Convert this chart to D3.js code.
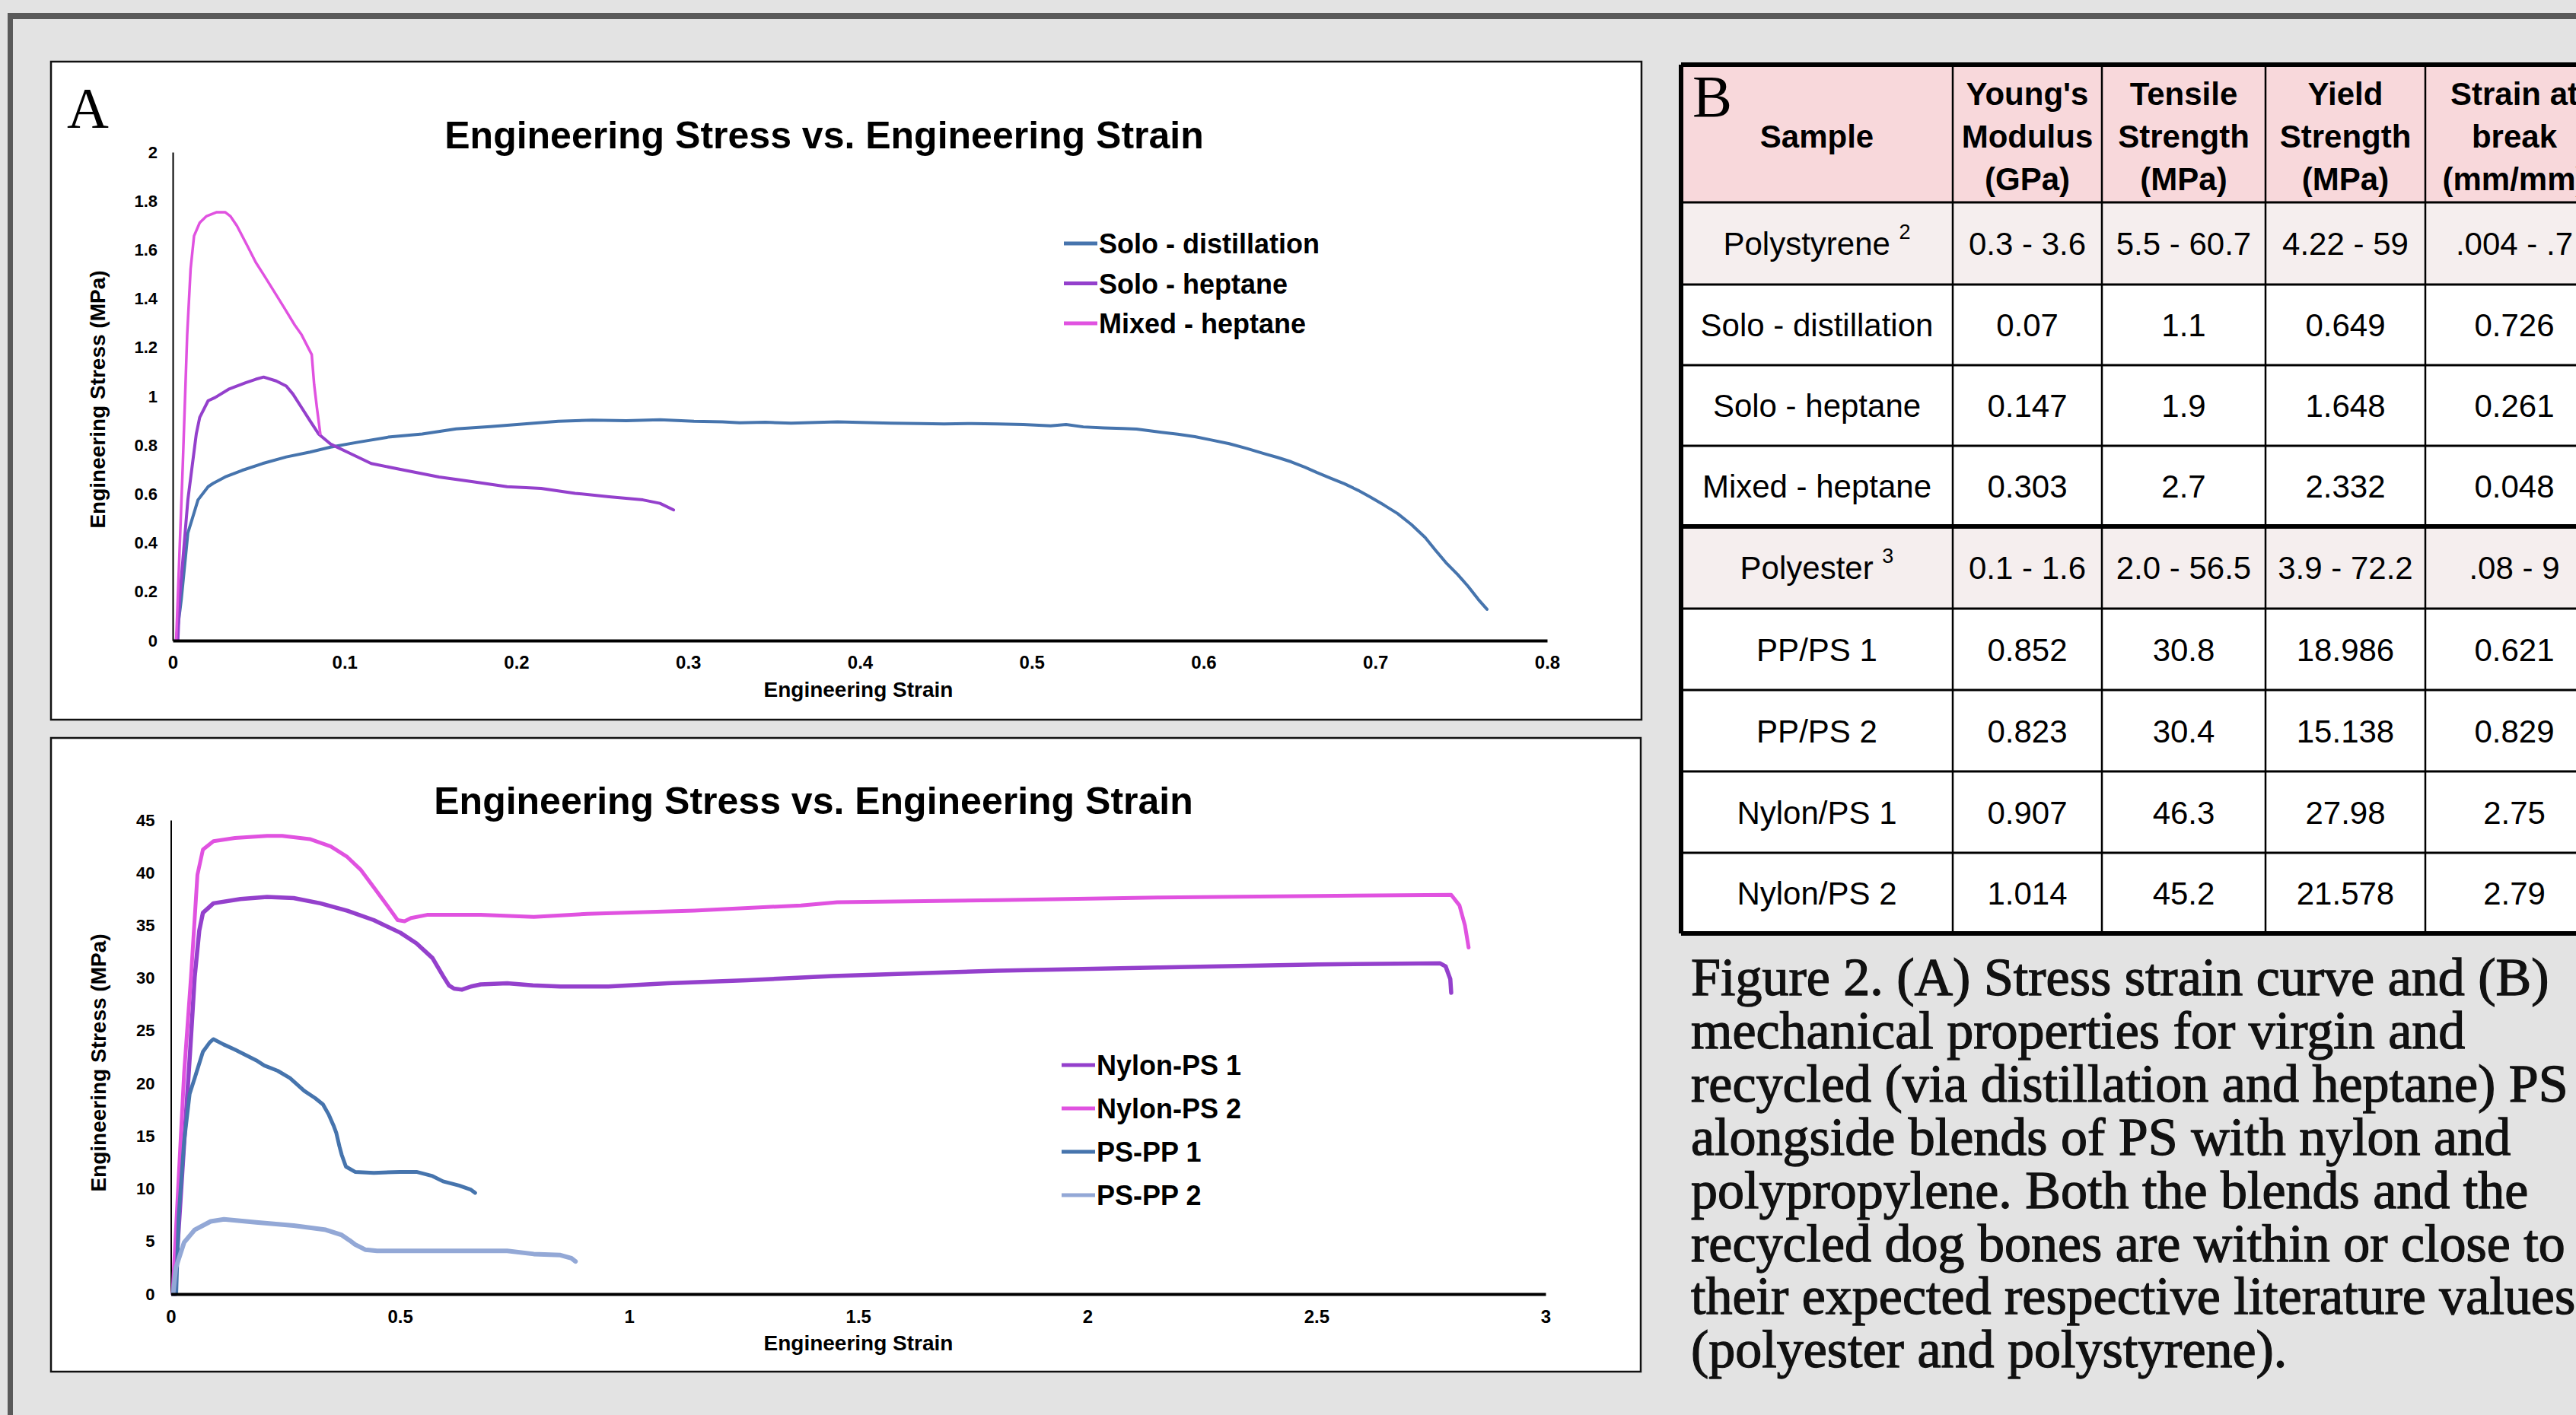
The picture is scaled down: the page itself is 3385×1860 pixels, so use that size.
<!DOCTYPE html>
<html><head><meta charset="utf-8">
<script src="https://cdn.jsdelivr.net/npm/d3@7"></script>
<style>html,body{margin:0;padding:0;background:#e3e3e3;overflow:hidden}</style>
</head><body>
<svg id="fig" width="3385" height="1860"></svg>
<script>
// ---------------- DATA ----------------
// Chart A: [engineering strain, engineering stress (MPa)]
const soloDistillation = [[0.002,0],[0.005,0.17],[0.0088,0.44],[0.0147,0.576],[0.0206,0.63],[0.0236,0.644],[0.0305,0.67],[0.0404,0.697],[0.0523,0.725],[0.0661,0.752],[0.0799,0.772],[0.0918,0.792],[0.1076,0.812],[0.1254,0.833],[0.1452,0.846],[0.165,0.867],[0.1848,0.876],[0.2046,0.887],[0.2244,0.898],[0.2442,0.903],[0.264,0.9],[0.2836,0.904],[0.3034,0.898],[0.32,0.896],[0.33,0.892],[0.345,0.894],[0.36,0.89],[0.375,0.893],[0.387,0.896],[0.4,0.893],[0.418,0.89],[0.435,0.889],[0.449,0.887],[0.465,0.889],[0.48,0.887],[0.495,0.885],[0.511,0.879],[0.52,0.885],[0.53,0.875],[0.542,0.871],[0.553,0.868],[0.561,0.866],[0.573,0.855],[0.585,0.845],[0.595,0.835],[0.604,0.822],[0.615,0.806],[0.625,0.787],[0.635,0.766],[0.643,0.75],[0.651,0.732],[0.659,0.71],[0.666,0.688],[0.674,0.665],[0.682,0.642],[0.69,0.615],[0.697,0.588],[0.705,0.555],[0.713,0.52],[0.721,0.475],[0.729,0.422],[0.735,0.37],[0.741,0.32],[0.748,0.27],[0.754,0.222],[0.76,0.168],[0.765,0.128]];
const soloHeptane = [[0.003,0],[0.004,0.171],[0.0088,0.576],[0.0137,0.846],[0.0157,0.914],[0.0206,0.982],[0.0246,0.995],[0.0325,1.029],[0.0424,1.056],[0.0483,1.07],[0.0529,1.079],[0.0602,1.063],[0.0661,1.042],[0.07,1.009],[0.075,0.954],[0.0799,0.9],[0.0849,0.846],[0.0918,0.805],[0.1037,0.765],[0.1155,0.725],[0.1353,0.697],[0.155,0.67],[0.1748,0.65],[0.1946,0.63],[0.2144,0.623],[0.2342,0.603],[0.254,0.589],[0.2737,0.576],[0.2836,0.562],[0.2915,0.535]];
const mixedHeptane = [[0.002,0],[0.0058,0.711],[0.0084,1.252],[0.0104,1.522],[0.0124,1.657],[0.0157,1.711],[0.0197,1.738],[0.0256,1.754],[0.0305,1.754],[0.0335,1.738],[0.0374,1.698],[0.0434,1.617],[0.0483,1.549],[0.0532,1.495],[0.0592,1.427],[0.0651,1.36],[0.071,1.292],[0.075,1.252],[0.0809,1.171],[0.0823,1.049],[0.0839,0.954],[0.0859,0.846]];

// Chart C
const nylonPS1 = [[0.008,0],[0.03,15],[0.042,23],[0.052,30.1],[0.062,34.5],[0.07,36.2],[0.093,37.1],[0.152,37.5],[0.21,37.7],[0.268,37.6],[0.326,37.1],[0.385,36.4],[0.443,35.5],[0.501,34.3],[0.536,33.3],[0.571,31.9],[0.594,30.2],[0.607,29.3],[0.618,29.0],[0.635,28.9],[0.655,29.2],[0.676,29.4],[0.734,29.5],[0.79,29.3],[0.85,29.2],[0.955,29.2],[1.084,29.5],[1.258,29.8],[1.445,30.2],[1.804,30.7],[2.154,31.0],[2.503,31.3],[2.77,31.4],[2.782,31.1],[2.792,29.9],[2.794,28.6]];
const nylonPS2 = [[0.004,0],[0.029,21],[0.044,30.1],[0.058,39.8],[0.07,42.2],[0.093,43.0],[0.14,43.3],[0.21,43.5],[0.243,43.5],[0.303,43.2],[0.349,42.5],[0.385,41.5],[0.414,40.3],[0.443,38.6],[0.472,36.9],[0.495,35.5],[0.51,35.4],[0.524,35.7],[0.559,36.0],[0.676,36.0],[0.792,35.8],[0.909,36.1],[1.142,36.4],[1.375,36.9],[1.454,37.2],[1.804,37.4],[2.154,37.65],[2.503,37.8],[2.794,37.9],[2.812,36.9],[2.824,35.0],[2.832,32.9]];
const psPP1 = [[0.0117,0],[0.017,7.3],[0.029,14.5],[0.041,19],[0.052,20.5],[0.07,23.0],[0.085,23.9],[0.093,24.2],[0.115,23.7],[0.14,23.2],[0.186,22.2],[0.204,21.7],[0.233,21.2],[0.26,20.5],[0.291,19.3],[0.315,18.6],[0.332,18.0],[0.345,17.0],[0.355,16.0],[0.361,15.3],[0.368,14],[0.373,13.2],[0.382,12.1],[0.402,11.6],[0.443,11.5],[0.5,11.6],[0.536,11.6],[0.571,11.2],[0.594,10.7],[0.629,10.3],[0.655,9.9],[0.664,9.6]];
const psPP2 = [[0.005,0],[0.011,2.5],[0.029,4.9],[0.052,6.1],[0.087,6.9],[0.116,7.1],[0.186,6.8],[0.268,6.5],[0.338,6.1],[0.373,5.6],[0.39,5.1],[0.402,4.7],[0.425,4.2],[0.45,4.1],[0.501,4.1],[0.734,4.1],[0.792,3.8],[0.85,3.7],[0.874,3.4],[0.883,3.1]];

const seriesNamesA = ["Solo - distillation", "Solo - heptane", "Mixed - heptane"];
const seriesNamesC = ["Nylon-PS 1", "Nylon-PS 2", "PS-PP 1", "PS-PP 2"];
const xTicksA = [0, 0.1, 0.2, 0.3, 0.4, 0.5, 0.6, 0.7, 0.8];
const yTicksA = [0, 0.2, 0.4, 0.6, 0.8, 1, 1.2, 1.4, 1.6, 1.8, 2];
const xTicksC = [0, 0.5, 1, 1.5, 2, 2.5, 3];
const yTicksC = [0, 5, 10, 15, 20, 25, 30, 35, 40, 45];
const chartTitle = "Engineering Stress vs. Engineering Strain";
const xAxisTitle = "Engineering Strain";
const yAxisTitle = "Engineering Stress (MPa)";

// Table B
const tableHeaders = [["Sample"], ["Young's", "Modulus", "(GPa)"], ["Tensile", "Strength", "(MPa)"], ["Yield", "Strength", "(MPa)"], ["Strain at", "break", "(mm/mm)"]];
const sampleNames = ["Polystyrene", "Solo - distillation", "Solo - heptane", "Mixed - heptane", "Polyester", "PP/PS 1", "PP/PS 2", "Nylon/PS 1", "Nylon/PS 2"];
const sampleRefs = ["2", "", "", "", "3", "", "", "", ""];
const youngsModulus = ["0.3 - 3.6", "0.07", "0.147", "0.303", "0.1 - 1.6", "0.852", "0.823", "0.907", "1.014"];
const tensileStrength = ["5.5 - 60.7", "1.1", "1.9", "2.7", "2.0 - 56.5", "30.8", "30.4", "46.3", "45.2"];
const yieldStrength = ["4.22 - 59", "0.649", "1.648", "2.332", "3.9 - 72.2", "18.986", "15.138", "27.98", "21.578"];
const strainAtBreak = [".004 - .7", "0.726", "0.261", "0.048", ".08 - 9", "0.621", "0.829", "2.75", "2.79"];
const captionLines = [
  "Figure 2. (A) Stress strain curve and (B)",
  "mechanical properties for virgin and",
  "recycled (via distillation and heptane) PS",
  "alongside blends of PS with nylon and",
  "polypropylene. Both the blends and the",
  "recycled dog bones are within or close to",
  "their expected respective literature values",
  "(polyester and polystyrene)."
];

// ---------------- STYLE ----------------
const C_BLUE = "#4674ad", C_PURPLE = "#9440cc", C_MAGENTA = "#e052e0", C_LIGHT = "#93a8d6";
const SANS = "'Liberation Sans', Arial, Helvetica, sans-serif";
const SERIF = "'Liberation Serif', 'Times New Roman', serif";

const svg = d3.select("#fig");
svg.append("rect").attr("width", 3385).attr("height", 1860).attr("fill", "#e3e3e3");
svg.append("rect").attr("x", 10).attr("y", 17).attr("width", 3375).attr("height", 8).attr("fill", "#5a5a5a");
svg.append("rect").attr("x", 10).attr("y", 17).attr("width", 7).attr("height", 1843).attr("fill", "#5a5a5a");

function drawChart(cfg) {
  const g = svg.append("g");
  g.append("rect").attr("x", cfg.panel[0]).attr("y", cfg.panel[1]).attr("width", cfg.panel[2]).attr("height", cfg.panel[3])
    .attr("fill", "#fff").attr("stroke", "#111").attr("stroke-width", 2.5);
  const x = d3.scaleLinear().domain([cfg.xTicks[0], cfg.xTicks[cfg.xTicks.length - 1]]).range(cfg.xRange);
  const y = d3.scaleLinear().domain([cfg.yTicks[0], cfg.yTicks[cfg.yTicks.length - 1]]).range(cfg.yRange);

  const ya = g.append("g").attr("transform", `translate(${cfg.xRange[0]},0)`)
    .call(d3.axisLeft(y).tickValues(cfg.yTicks).tickSize(0).tickPadding(cfg.yPad).tickFormat(d => String(d)));
  ya.select(".domain").attr("stroke", "#000").attr("stroke-width", 2);
  ya.selectAll("text").attr("font-family", SANS).attr("font-weight", "bold").attr("font-size", 22).attr("fill", "#000");

  const line = d3.line().x(d => x(d[0])).y(d => y(d[1]));
  cfg.series.forEach(s => {
    g.append("path").datum(s.data).attr("d", line).attr("fill", "none")
      .attr("stroke", s.color).attr("stroke-width", s.width).attr("stroke-linejoin", "round").attr("stroke-linecap", "round");
  });

  const xa = g.append("g").attr("transform", `translate(0,${cfg.yRange[0]})`)
    .call(d3.axisBottom(x).tickValues(cfg.xTicks).tickSize(0).tickPadding(cfg.xPad).tickFormat(d => String(d)));
  xa.select(".domain").attr("stroke", "#000").attr("stroke-width", 4);
  xa.selectAll("text").attr("font-family", SANS).attr("font-weight", "bold").attr("font-size", 24).attr("fill", "#000");

  g.append("text").attr("x", cfg.titleX).attr("y", cfg.titleY).attr("text-anchor", "middle")
    .attr("font-family", SANS).attr("font-weight", "bold").attr("font-size", 50).text(chartTitle);
  g.append("text").attr("x", 1128).attr("y", cfg.xTitleY).attr("text-anchor", "middle")
    .attr("font-family", SANS).attr("font-weight", "bold").attr("font-size", 28).text(xAxisTitle);
  g.append("text").attr("transform", `translate(${cfg.yTitleX},${cfg.yTitleY}) rotate(-90)`).attr("text-anchor", "middle")
    .attr("font-family", SANS).attr("font-weight", "bold").attr("font-size", 28).text(yAxisTitle);

  const lg = g.append("g");
  cfg.series.forEach((s, i) => {
    const by = cfg.legendY + i * cfg.legendStep;
    lg.append("line").attr("x1", cfg.legendX).attr("x2", cfg.legendX + 44).attr("y1", by - 13).attr("y2", by - 13)
      .attr("stroke", s.color).attr("stroke-width", 5);
    lg.append("text").attr("x", cfg.legendX + 46).attr("y", by).attr("font-family", SANS).attr("font-weight", "bold")
      .attr("font-size", 36).text(s.name);
  });
}

drawChart({
  panel: [67, 81, 2090, 865], xRange: [227, 2033], yRange: [842, 200],
  xTicks: xTicksA, yTicks: yTicksA, xPad: 20, yPad: 20,
  titleX: 1083, titleY: 195, xTitleY: 916, yTitleX: 138, yTitleY: 525,
  legendX: 1398, legendY: 333, legendStep: 52.5,
  series: [
    {name: seriesNamesA[0], data: soloDistillation, color: C_BLUE, width: 4},
    {name: seriesNamesA[1], data: soloHeptane, color: C_PURPLE, width: 4},
    {name: seriesNamesA[2], data: mixedHeptane, color: C_MAGENTA, width: 3.5}
  ]
});
svg.append("text").attr("x", 88).attr("y", 168).attr("font-family", SERIF).attr("font-size", 76).text("A");

drawChart({
  panel: [67, 970, 2089, 833], xRange: [224.5, 2031], yRange: [1701, 1078],
  xTicks: xTicksC, yTicks: yTicksC, xPad: 21, yPad: 21,
  titleX: 1069, titleY: 1070, xTitleY: 1775, yTitleX: 139, yTitleY: 1397,
  legendX: 1395, legendY: 1413, legendStep: 57,
  series: [
    {name: seriesNamesC[0], data: nylonPS1, color: C_PURPLE, width: 5.5},
    {name: seriesNamesC[1], data: nylonPS2, color: C_MAGENTA, width: 5},
    {name: seriesNamesC[2], data: psPP1, color: C_BLUE, width: 5},
    {name: seriesNamesC[3], data: psPP2, color: C_LIGHT, width: 6}
  ]
});

// ---------------- TABLE ----------------
const colEdges = [2209, 2566, 2762, 2977, 3187, 3421];
const rowEdges = [85, 266, 374, 480, 586, 692, 800, 907, 1014, 1121, 1227];
const tg = svg.append("g");
tg.append("rect").attr("x", colEdges[0]).attr("y", rowEdges[0]).attr("width", colEdges[5] - colEdges[0]).attr("height", rowEdges[1] - rowEdges[0]).attr("fill", "#f8d8db");
const columns = [sampleNames, youngsModulus, tensileStrength, yieldStrength, strainAtBreak];
sampleNames.forEach((s, r) => {
  const y0 = rowEdges[r + 1], y1 = rowEdges[r + 2];
  tg.append("rect").attr("x", colEdges[0]).attr("y", y0).attr("width", colEdges[5] - colEdges[0]).attr("height", y1 - y0)
    .attr("fill", sampleRefs[r] ? "#f5eeee" : "#ffffff");
});
rowEdges.forEach((ry, i) => {
  const thick = (i === 0 || i === 5 || i === rowEdges.length - 1);
  tg.append("line").attr("x1", colEdges[0]).attr("x2", 3385).attr("y1", ry).attr("y2", ry)
    .attr("stroke", "#000").attr("stroke-width", thick ? 6 : 3);
});
colEdges.forEach((cx, i) => {
  tg.append("line").attr("x1", cx).attr("x2", cx).attr("y1", rowEdges[0]).attr("y2", rowEdges[rowEdges.length - 1])
    .attr("stroke", "#000").attr("stroke-width", i === 0 ? 6 : 2.5);
});
tableHeaders.forEach((lines, c) => {
  const cx = (colEdges[c] + colEdges[c + 1]) / 2;
  const mid = (rowEdges[0] + rowEdges[1]) / 2;
  const base0 = lines.length === 1 ? mid + 18 : mid - 38;
  lines.forEach((t, k) => {
    tg.append("text").attr("x", cx).attr("y", base0 + k * 56).attr("text-anchor", "middle")
      .attr("font-family", SANS).attr("font-weight", "bold").attr("font-size", 42).text(t);
  });
});
columns.forEach((col, c) => {
  const cx = (colEdges[c] + colEdges[c + 1]) / 2;
  col.forEach((v, r) => {
    const mid = (rowEdges[r + 1] + rowEdges[r + 2]) / 2;
    const t = tg.append("text").attr("x", cx).attr("y", mid + 15).attr("text-anchor", "middle")
      .attr("font-family", SANS).attr("font-size", 42);
    t.append("tspan").text(v);
    if (c === 0 && sampleRefs[r]) {
      t.append("tspan").text(" ");
      t.append("tspan").attr("font-size", 27).attr("dy", -21).text(sampleRefs[r]);
    }
  });
});
svg.append("text").attr("x", 2224).attr("y", 153).attr("font-family", SERIF).attr("font-size", 78).text("B");

// ---------------- CAPTION ----------------
const cap = svg.append("g");
captionLines.forEach((t, i) => {
  cap.append("text").attr("x", 2222).attr("y", 1308 + i * 69.9).attr("font-family", SERIF).attr("font-size", 70)
    .attr("fill", "#111").attr("stroke", "#111").attr("stroke-width", 1.3).text(t);
});
</script>
</body></html>
